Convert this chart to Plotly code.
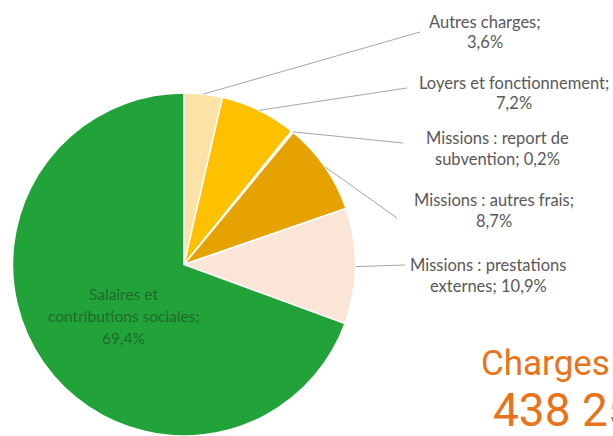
import math
import plotly.graph_objects as go

W, H = 613, 436

# ---- data ----
categories = [
    "Autres charges",
    "Loyers et fonctionnement",
    "Missions : report de subvention",
    "Missions : autres frais",
    "Missions : prestations externes",
    "Salaires et contributions sociales",
]
values = [3.6, 7.2, 0.2, 8.7, 10.9, 69.4]
label_lines = [
    ["Autres charges;", "{v}%"],
    ["Loyers et fonctionnement;", "{v}%"],
    ["Missions : report de", "subvention; {v}%"],
    ["Missions : autres frais;", "{v}%"],
    ["Missions : prestations", "externes; {v}%"],
    ["Salaires et", "contributions sociales;", "{v}%"],
]
colors = ["#FDE2A8", "#FFC000", "#FFF2CC", "#E5A200", "#FBE5D6", "#22A33A"]
headline = "Charges"
headline_value = "438 25"

def fr(v):
    return ("%.1f" % v).replace(".", ",")

# ---- layout geometry (pixels) ----
cx, cy, r = 184, 265, 172
label_pos = [(485, 22), (514, 83), (497, 138), (494, 200), (488, 265), (123, 294)]
line_end = [(420, 32), (407, 88), (403, 143), (397, 218), (405, 265), None]
line_gap = 20.5

def px(x):
    return x / W

def py(y):
    return 1 - y / H

fig = go.Figure(go.Pie(
    labels=categories,
    values=values,
    sort=False,
    direction="clockwise",
    rotation=0,
    marker=dict(colors=colors, line=dict(color="white", width=1.5)),
    textinfo="none",
    hoverinfo="label+percent",
    domain=dict(x=[px(cx - r), px(cx + r)], y=[max(0, py(cy + r)), py(cy - r)]),
    showlegend=False,
))

annotations = []
shapes = []
total = sum(values)
cum = 0.0
for i, v in enumerate(values):
    mid = (cum + v / 2) / total * 2 * math.pi
    cum += v
    lx, ly = label_pos[i]
    is_inside = line_end[i] is None
    col = "#1F6B2C" if is_inside else "#595959"
    size = 15.5 if is_inside else 16.5
    gap = 22 if is_inside else line_gap
    for k, t in enumerate(label_lines[i]):
        annotations.append(dict(
            x=px(lx), y=py(ly + k * gap), xref="paper", yref="paper",
            text=t.format(v=fr(v)), showarrow=False, xanchor="center", yanchor="middle",
            font=dict(family="Lato", size=size, color=col),
        ))
    if not is_inside:
        sx = cx + r * math.sin(mid)
        sy = cy - r * math.cos(mid)
        ex, ey = line_end[i]
        shapes.append(dict(type="line", xref="paper", yref="paper",
                           x0=px(sx), y0=py(sy), x1=px(ex), y1=py(ey),
                           line=dict(color="#A6A6A6", width=1)))

annotations.append(dict(x=px(479), y=py(363), xref="paper", yref="paper", text=headline,
                        showarrow=False, xanchor="left", yanchor="middle",
                        font=dict(family="Roboto", size=35, color="#E8731A")))
annotations.append(dict(x=px(491), y=py(410), xref="paper", yref="paper", text=headline_value,
                        showarrow=False, xanchor="left", yanchor="middle",
                        font=dict(family="Roboto", size=46, color="#E8731A")))

fig.update_layout(
    width=W, height=H,
    margin=dict(l=0, r=0, t=0, b=0),
    paper_bgcolor="white", plot_bgcolor="white",
    annotations=annotations, shapes=shapes,
)
fig.write_html("out.html", config={"displayModeBar": False},
               post_script="document.body.style.margin='0';document.body.style.overflow='hidden';")
